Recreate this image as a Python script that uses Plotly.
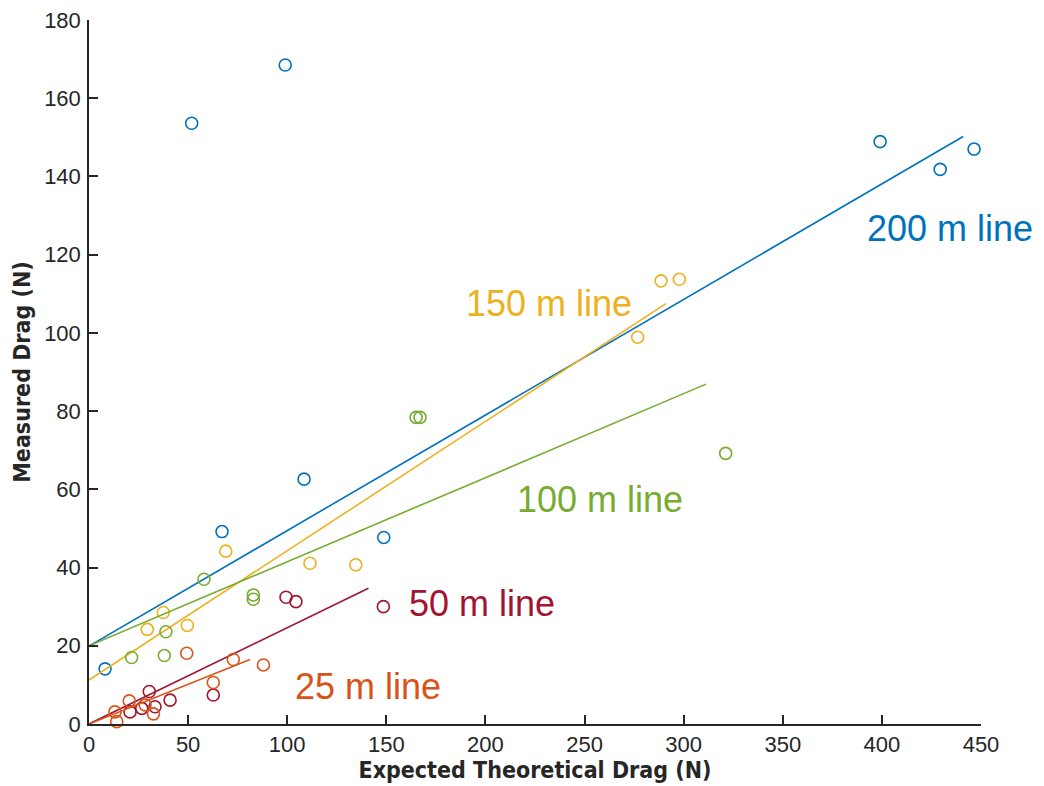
import plotly.graph_objects as go

# ---- data ----
series_names = ["200 m line", "150 m line", "100 m line", "50 m line", "25 m line"]
series_colors = ["#0072BD", "#EDB120", "#77AC30", "#A2142F", "#D95319"]

x_200 = [8.1, 51.8, 99.0, 67.1, 108.5, 148.7, 399.1, 429.4, 446.5]
y_200 = [14.1, 153.6, 168.5, 49.2, 62.6, 47.7, 148.9, 141.8, 147.0]

x_150 = [29.4, 37.5, 49.6, 69.0, 111.5, 134.6, 276.8, 288.6, 297.8]
y_150 = [24.2, 28.5, 25.2, 44.2, 41.1, 40.7, 98.9, 113.3, 113.7]

x_100 = [21.5, 38.0, 38.8, 58.0, 82.9, 82.9, 165.0, 167.0, 321.2]
y_100 = [17.0, 17.5, 23.6, 37.0, 33.0, 31.9, 78.4, 78.4, 69.2]

x_50 = [20.7, 26.6, 30.4, 33.3, 40.9, 62.7, 99.4, 104.4, 148.5]
y_50 = [3.1, 4.0, 8.3, 4.4, 6.1, 7.4, 32.4, 31.3, 30.0]

x_25 = [13.1, 14.0, 20.3, 28.3, 32.5, 49.3, 62.7, 72.8, 88.0]
y_25 = [3.1, 0.6, 5.9, 4.9, 2.6, 18.1, 10.6, 16.5, 15.1]

# fitted lines: intercept, slope, x extent
fit_intercept = [19.9, 11.25, 20.0, 0.0, 0.0]
fit_slope = [0.2955, 0.3306, 0.2149, 0.246, 0.203]
fit_xmax = [441.0, 291.1, 311.3, 141.0, 81.2]

# label anchor points (data coords)
label_x = [434.4, 232.1, 257.8, 198.3, 140.5]
label_y = [126.6, 107.6, 57.3, 30.7, 9.5]

x_ticks = [0, 50, 100, 150, 200, 250, 300, 350, 400, 450]
y_ticks = [0, 20, 40, 60, 80, 100, 120, 140, 160, 180]

xs = [x_200, x_150, x_100, x_50, x_25]
ys = [y_200, y_150, y_100, y_50, y_25]

fig = go.Figure()

for i in range(5):
    fig.add_trace(go.Scatter(
        x=xs[i], y=ys[i], mode="markers",
        marker=dict(symbol="circle-open", size=12, color=series_colors[i],
                    line=dict(width=1.6, color=series_colors[i])),
        showlegend=False, hoverinfo="x+y", cliponaxis=False))
    x0, x1 = 0.0, fit_xmax[i]
    fig.add_trace(go.Scatter(
        x=[x0, x1],
        y=[fit_intercept[i] + fit_slope[i] * x0, fit_intercept[i] + fit_slope[i] * x1],
        mode="lines", line=dict(color=series_colors[i], width=1.6),
        showlegend=False, hoverinfo="skip"))

for i in range(5):
    fig.add_annotation(x=label_x[i], y=label_y[i], text=series_names[i],
                       showarrow=False, xanchor="center", yanchor="middle",
                       font=dict(family="Liberation Sans, Arial, sans-serif",
                                 size=36, color=series_colors[i]))

axis_font = dict(family="Liberation Sans, Arial, sans-serif", size=22, color="#262626")
title_font = dict(family="Liberation Sans Narrow, Arial Narrow, DejaVu Sans Condensed, sans-serif",
                  size=23, color="#262626", weight="bold")

# the page body adds an 8px offset at top-left, so the figure is 8px smaller
fig.update_layout(
    width=1036, height=778,
    margin=dict(l=81, r=63, t=12, b=62),
    paper_bgcolor="white", plot_bgcolor="white",
    xaxis=dict(range=[0, 450], tickvals=x_ticks, ticktext=[str(v) for v in x_ticks],
               showgrid=False, zeroline=False, showline=True, linecolor="#262626",
               linewidth=1.5, ticks="inside", ticklen=9, tickwidth=1.5, tickcolor="#262626",
               tickfont=axis_font, ticklabelstandoff=0, automargin=False,
               ticklabeloverflow="allow",
               title=dict(text="Expected Theoretical Drag (N)", font=title_font, standoff=0)),
    yaxis=dict(range=[0, 180], tickvals=y_ticks, ticktext=[str(v) for v in y_ticks],
               showgrid=False, zeroline=False, showline=True, linecolor="#262626",
               linewidth=1.5, ticks="inside", ticklen=9, tickwidth=1.5, tickcolor="#262626",
               tickfont=axis_font, ticklabelstandoff=2, automargin=False,
               ticklabeloverflow="allow",
               title=dict(text="Measured Drag (N)", font=title_font, standoff=7)),
)

fig.write_html("out.html")
